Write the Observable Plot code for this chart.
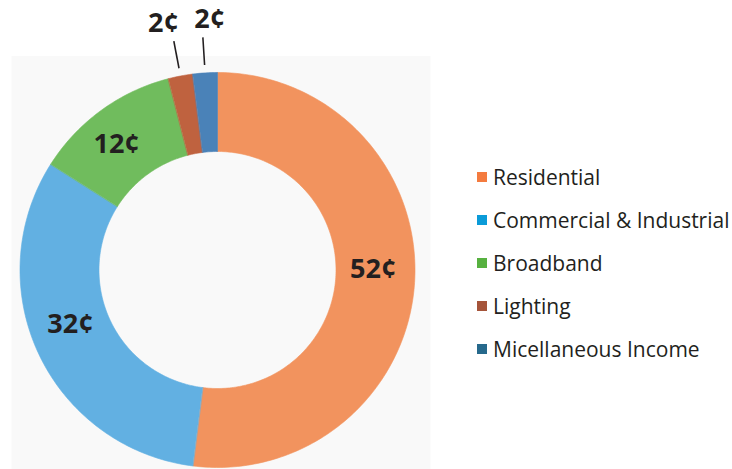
<!DOCTYPE html>
<html>
<head>
<meta charset="utf-8">
<script src="https://cdn.jsdelivr.net/npm/d3@7"></script>
<script src="https://cdn.jsdelivr.net/npm/@observablehq/plot@0.6"></script>
<style>
  html, body { margin: 0; padding: 0; background: #ffffff; }
  #wrap { position: relative; width: 732px; height: 469px; overflow: hidden; font-family: "Open Sans", sans-serif; }
  #chart { position: absolute; left: 0; top: 0; }
  #legend { position: absolute; left: 477px; top: 155px; }
  .item { display: flex; align-items: center; height: 43px; color: #231f20; font-size: 21px; white-space: nowrap; }
  .sw { width: 10px; height: 10px; margin-right: 6px; flex: none; }
</style>
</head>
<body>
<div id="wrap"><div id="chart"></div><div id="legend"></div></div>
<script>
// ---- data ----
const categories = ["Residential", "Commercial & Industrial", "Broadband", "Lighting", "Micellaneous Income"];
const values = [52, 32, 12, 2, 2];
const labels = ["52¢", "32¢", "12¢", "2¢", "2¢"];
const sliceColors = ["#f2935e", "#62b0e2", "#70bc5d", "#bf623f", "#4a82b8"];
const legendColors = ["#f47b3f", "#0b9bd8", "#57b140", "#a5543a", "#26698c"];
const outsideLabel = [false, false, false, true, true];

// ---- geometry derived from data ----
const R = 1, r0 = 0.6;
const pie = d3.pie().sort(null).value(d => d.value).startAngle(0).endAngle(2 * Math.PI);
const arcs = pie(categories.map((c, i) => ({key: c, value: values[i], label: labels[i], out: outsideLabel[i]})));
const pol = (a, rad) => ({x: rad * Math.sin(a), y: rad * Math.cos(a)});

const ring = [];
for (const a of arcs) {
  const n = Math.max(2, Math.ceil((a.endAngle - a.startAngle) / (Math.PI / 180)));
  for (let k = 0; k <= n; k++) {
    const t = a.startAngle + (a.endAngle - a.startAngle) * k / n;
    ring.push({key: a.data.key, ...pol(t, R)});
  }
  for (let k = n; k >= 0; k--) {
    const t = a.startAngle + (a.endAngle - a.startAngle) * k / n;
    ring.push({key: a.data.key, ...pol(t, r0)});
  }
}
const mid = a => (a.startAngle + a.endAngle) / 2;
const labelPts = arcs.map(a => ({text: a.data.label, ...pol(mid(a), a.data.out ? 1.27 : 0.8)}));
const leaders = arcs.filter(a => a.data.out).map(a => {
  const p1 = pol(mid(a), 1.04), p2 = pol(mid(a), 1.18);
  return {x1: p1.x, y1: p1.y, x2: p2.x, y2: p2.y};
});

// per-label nudges (styling only)
const nudges = [[-2, -11], [-4, -13], [-8, 2], [-7, 0], [8, 0]];
const labelMarks = labelPts.map((p, i) =>
  Plot.text([p], {x: "x", y: "y", text: "text", dx: nudges[i][0], dy: nudges[i][1],
    fontSize: 27, fontWeight: 700, fill: "#231f20", fontFamily: "Open Sans"}));

const chart = Plot.plot({
  width: 440,
  height: 469,
  marginLeft: 11,
  marginRight: 10,
  marginTop: 55.6,
  marginBottom: 0,
  x: {domain: [-1.043, 1.0785], axis: null},
  y: {domain: [-1.0101, 1.083], axis: null},
  color: {type: "ordinal", domain: categories, range: sliceColors},
  style: {background: "transparent", overflow: "visible"},
  marks: [
    Plot.frame({fill: "#f9f9f9", stroke: "none"}),
    Plot.line(ring, {x: "x", y: "y", z: "key", fill: "key", stroke: "key", strokeWidth: 0.6, curve: "linear-closed"}),
    Plot.link(leaders, {x1: "x1", y1: "y1", x2: "x2", y2: "y2", stroke: "#231f20", strokeWidth: 1.6}),
    ...labelMarks
  ]
});
document.getElementById("chart").append(chart);

const leg = document.getElementById("legend");
categories.forEach((c, i) => {
  const it = document.createElement("div");
  it.className = "item";
  const sw = document.createElement("span");
  sw.className = "sw";
  sw.style.background = legendColors[i];
  const tx = document.createElement("span");
  tx.textContent = c;
  it.append(sw, tx);
  leg.append(it);
});
</script>
</body>
</html>
